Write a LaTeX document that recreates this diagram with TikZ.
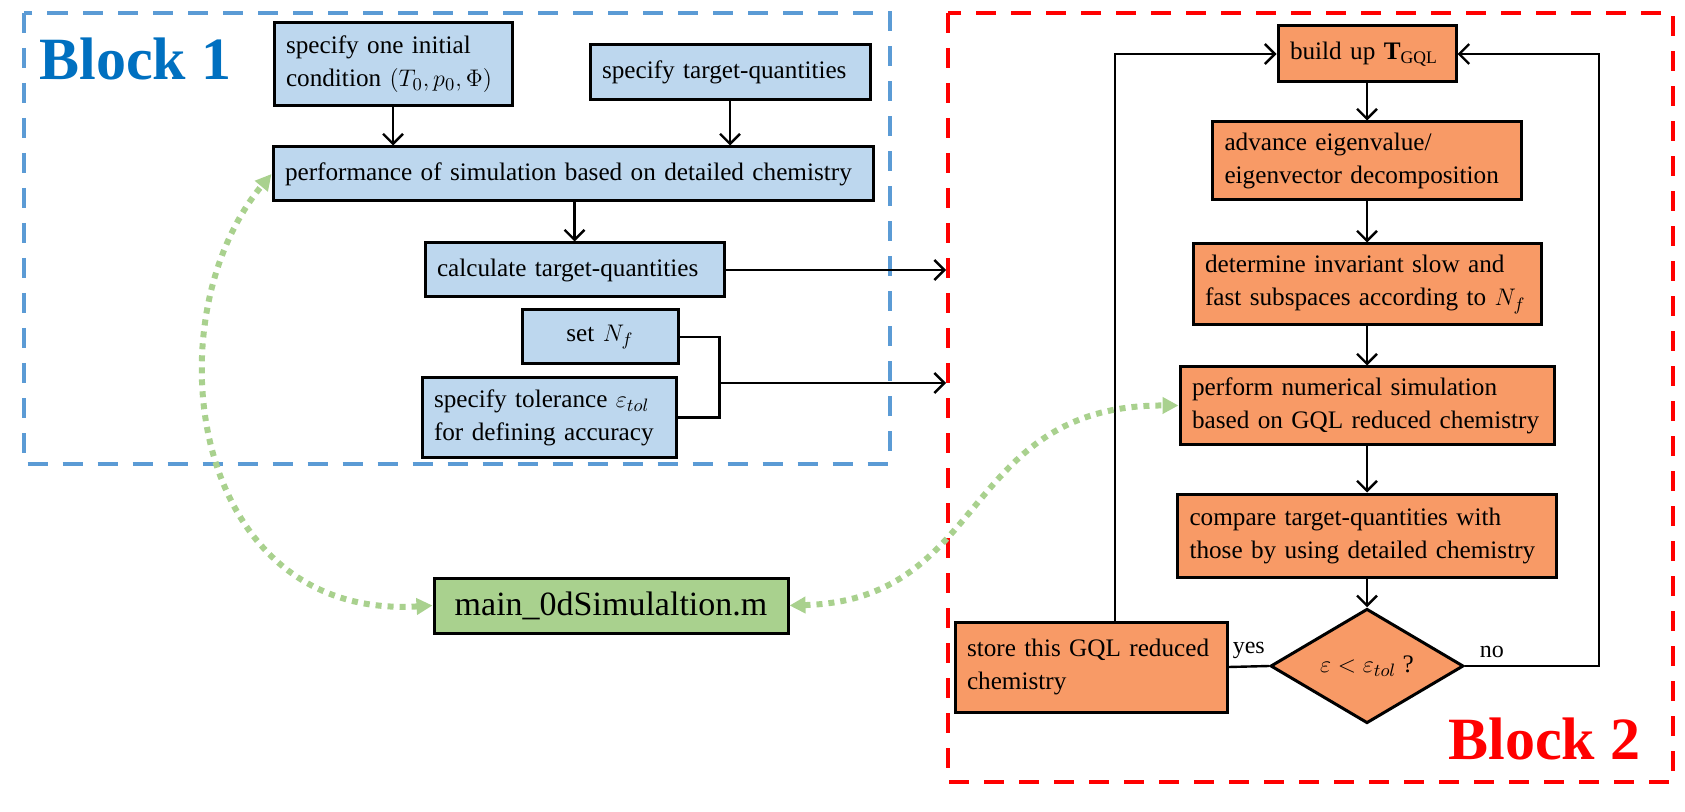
\documentclass[tikz,border=0pt]{standalone}
\usepackage{amsmath}
\usepackage{fontspec}
\setmainfont{Liberation Serif}
\usepackage{tikz}
\usetikzlibrary{arrows.meta, shapes.geometric}

\definecolor{boxblue}{HTML}{BDD7EE}
\definecolor{boxorange}{HTML}{F89A66}
\definecolor{boxgreen}{HTML}{A9D18E}
\definecolor{frameblue}{HTML}{5B9BD5}
\definecolor{titleblue}{HTML}{0070C0}

\begin{document}
\begin{tikzpicture}[
  x=0.5pt, y=-0.5pt,
  box/.style={draw, line width=1.5pt, inner xsep=6pt, inner ysep=0pt,
    align=left, font=\fontsize{12.6pt}{16.5pt}\selectfont},
  blue box/.style={box, fill=boxblue},
  orange box/.style={box, fill=boxorange},
  flow/.style={line width=1.2pt, -{Straight Barb[length=5pt,width=10pt]}},
  link/.style={boxgreen, line width=3pt, dash pattern=on 3pt off 3pt,
    {Triangle[length=8pt,width=8pt]}-{Triangle[length=8pt,width=8pt]}},
  frame/.style={line width=2pt, dash pattern=on 10pt off 7.5pt},
  title/.style={anchor=base west, inner sep=0pt,
    font=\fontsize{30pt}{36pt}\selectfont\bfseries}
  ]

  \useasboundingbox (0,0) rectangle (1685,812);

  \draw[frame, frameblue] (23.5,13) rectangle (889.5,464);
  \draw[frame, red, line width=2.25pt] (948,13) rectangle (1673,782);

  \node[title, text=titleblue] (block1) at (39,80) {Block 1};
  \node[title, text=red] (block2) at (1448,759) {Block 2};

  \node[blue box, text width=107pt, minimum height=41.5pt] (init) at (393,64.5)
    {specify one initial\\condition $(T_0, p_0, \Phi)$};
  \node[blue box, text width=128pt, minimum height=27.5pt] (target) at (730,72.5)
    {specify target-quantities};
  \node[blue box, text width=288pt, minimum height=27pt] (perf) at (573,174)
    {performance of simulation based on detailed chemistry};
  \node[blue box, text width=137.5pt, minimum height=27pt] (calc) at (574.5,270)
    {calculate target-quantities};
  \node[blue box, text width=66pt, minimum height=27pt, align=center] (setnf) at (600,337)
    {set $N_f$};
  \node[blue box, text width=115pt, minimum height=39.5pt] (tol) at (549,417.5)
    {specify tolerance $\varepsilon_{tol}$\\for defining accuracy};
  \node[box, fill=boxgreen, text width=165pt, minimum height=27.5pt, align=center,
    font=\fontsize{17pt}{20pt}\selectfont] (main) at (611,605.5)
    {main\_0dSimulaltion.m};

  \node[orange box, text width=77pt, minimum height=28pt] (build) at (1367,54)
    {build up $\mathbf{T}_{\text{GQL}}$};
  \node[orange box, text width=142.5pt, minimum height=39pt] (adv) at (1367,161)
    {advance eigenvalue/\\eigenvector decomposition};
  \node[orange box, text width=162pt, minimum height=40.5pt] (det) at (1367,284.5)
    {determine invariant slow and\\fast subspaces according to $N_f$};
  \node[orange box, text width=175pt, minimum height=38.5pt] (sim) at (1367,405.5)
    {perform numerical simulation\\based on GQL reduced chemistry};
  \node[orange box, text width=177.5pt, minimum height=41.5pt] (cmp) at (1367,535.5)
    {compare target-quantities with\\those by using detailed chemistry};
  \node[diamond, draw, line width=1.5pt, fill=boxorange, inner sep=0pt,
    minimum width=96.5pt, minimum height=46pt,
    font=\fontsize{12.6pt}{16.5pt}\selectfont] (check) at (1367,666)
    {$\varepsilon < \varepsilon_{tol}$ ?};
  \node[orange box, text width=124pt, minimum height=45pt] (store) at (1091,667)
    {store this GQL reduced\\chemistry};

  \coordinate (gate) at (946,0);
  \coordinate (join) at (718,383);

  \draw[flow] (init.south) -- (init.south |- perf.north);
  \draw[flow] (target.south) -- (target.south |- perf.north);
  \draw[flow] (calc.north |- perf.south) -- (calc.north);
  \draw[flow] (calc.east) -- (calc.east -| gate);
  \draw[line width=1.2pt] (setnf.east) -- ++(40,0) |- (tol.east);
  \draw[flow] (join) -- (join -| gate);

  \draw[flow] (build) -- (adv);
  \draw[flow] (adv) -- (det);
  \draw[flow] (det) -- (sim);
  \draw[flow] (sim) -- (cmp);
  \draw[flow] (cmp) -- (check);
  \draw[line width=1.2pt] (check.west) -- node[above, font=\fontsize{12pt}{14pt}\selectfont] {yes} (store.east);
  \draw[flow] (check.east) -- node[above, pos=.2, font=\fontsize{12pt}{14pt}\selectfont] {no} ++(134,0) |- (build.east);
  \draw[flow] ([xshift=12pt]store.north) |- (build.west);

  \draw[link] (main.west) .. controls (190,620) and (150,320) .. (perf.west);
  \draw[link] (main.east) .. controls (990,600) and (960,405) .. (sim.west);

\end{tikzpicture}
\end{document}
